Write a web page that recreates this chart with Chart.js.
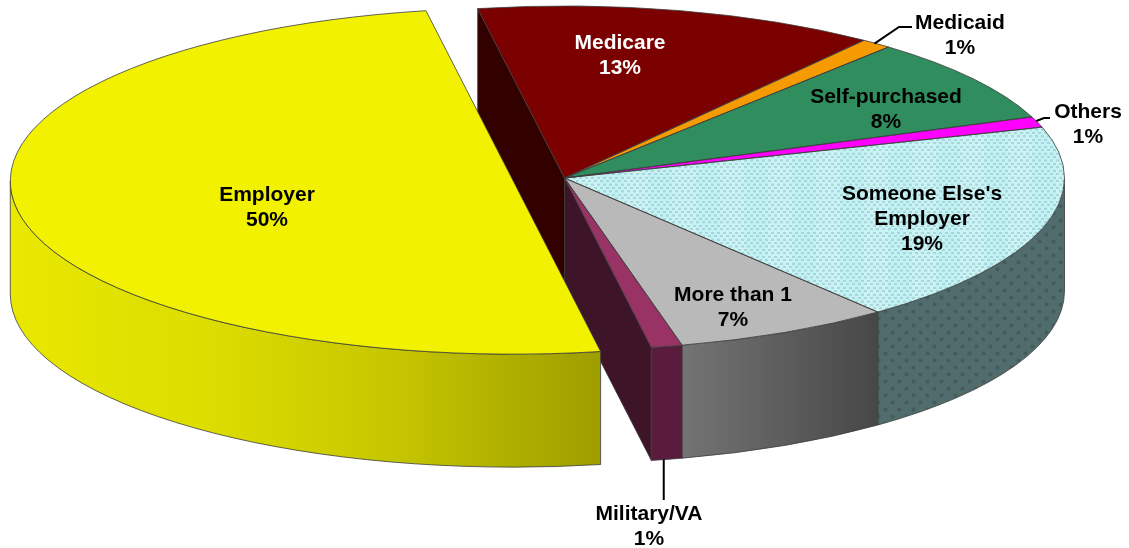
<!DOCTYPE html>
<html>
<head>
<meta charset="utf-8">
<style>html,body{margin:0;padding:0;background:#fff}canvas{display:block}</style>
<script src="https://cdn.jsdelivr.net/npm/chart.js@4/dist/chart.umd.min.js"></script>
</head>
<body>
<canvas id="c" width="1129" height="548"></canvas>
<script>
const categories = ['Medicare','Medicaid','Self-purchased','Others',"Someone Else's Employer",'More than 1','Military/VA','Employer'];
const values = [13,1,8,1,19,7,1,50];
const labelLines = [['Medicare'],['Medicaid'],['Self-purchased'],['Others'],["Someone Else's",'Employer'],['More than 1'],['Military/VA'],['Employer']];

const topColors = ['#7b0000','#f59a00','#2f8d5e','#ff00ff','#c2f1f3','#b9b9b9','#993366','#f2f200'];
const wallColors = ['#330000','#7a4d00','#174630','#800080','#4f6b6b','#606060','#5a1c3c','#c8c800'];
const textColors = ['#fff','#000','#000','#000','#000','#000','#000','#000'];

const FONT = 'bold 21px "Liberation Sans", Arial, sans-serif';
const RADIUS = 500, TILT = 0.344, DEPTH = 113, CENTER_Y = 178;
const EXPLODE = 52, EXPLODE_GROW = 3;
const LINE_H = 25;
// label anchor: centre x and first line middle y per slice
const labelAnchor = [[620,42],[960,22],[886,96],[1088,111],[922,193],[733,294],[649,513],[267,194]];
// leader route per slice: start comes from the slice itself, shifted by leaderShift
const leaders = {1:[[899,27],[912,27]],3:[[1044,118],[1050,118]],6:[[null,500]]};
const leaderShift = {1:[-2,0],3:[-1,-1],6:[-3,0]};

const canvas = document.getElementById('c');
const ctx0 = canvas.getContext('2d');

function makeTile(w,h,paint){const t=document.createElement('canvas');t.width=w;t.height=h;paint(t.getContext('2d'));return t;}
const topTile = makeTile(48,40,g=>{
  g.fillStyle='#c3f2f4';g.fillRect(0,0,48,40);
  g.fillStyle='rgba(255,255,255,.10)';g.fillRect(0,0,24,40);
  g.fillStyle='rgba(130,175,180,.42)';
  for(let y=0;y<2;y++)for(let x=0;x<8;x++){
    g.fillRect(x*6,y*20,3,6);
    g.fillRect(x*6+3,y*20+10,3,6);
  }
});
const wallTile = makeTile(14,14,g=>{
  g.fillStyle='#506c6c';g.fillRect(0,0,14,14);
  g.fillStyle='#435b5b';
  [[3.5,3.5],[10.5,10.5]].forEach(([x,y])=>{g.beginPath();g.arc(x,y,2,0,7);g.fill();});
});
topColors[4] = ctx0.createPattern(topTile,'repeat');
const wallPattern = ctx0.createPattern(wallTile,'repeat');

function hgrad(ctx,x0,x1,stops){const g=ctx.createLinearGradient(x0,0,x1,0);stops.forEach(([p,c])=>g.addColorStop(p,c));return g;}

const pie3d = {
  id:'pie3d',
  afterDatasetsUpdate(chart){
    const arcs = chart.getDatasetMeta(0).data, a = arcs[arcs.length-1];
    const mid = (a.startAngle+a.endAngle)/2;
    a.x += Math.cos(mid)*EXPLODE;
    a.y += Math.sin(mid)*EXPLODE;
    a.outerRadius += EXPLODE_GROW;
  },
  beforeDatasetsDraw(chart){
    const ctx = chart.ctx, arcs = chart.getDatasetMeta(0).data;
    const base = arcs[0], n = arcs.length;
    this.baseY = base.y;
    const sy = y => CENTER_Y + (y-this.baseY)*TILT;
    ctx.save();
    // cut faces beside the gap
    const face = (ang,col)=>{
      const ex = base.x+Math.cos(ang)*base.outerRadius, ey = sy(base.y)+Math.sin(ang)*base.outerRadius*TILT, cy = sy(base.y);
      ctx.beginPath();ctx.moveTo(base.x,cy);ctx.lineTo(ex,ey);ctx.lineTo(ex,ey+DEPTH);ctx.lineTo(base.x,cy+DEPTH);ctx.closePath();
      ctx.fillStyle=col;ctx.fill();
      ctx.strokeStyle='rgba(60,60,60,.8)';ctx.lineWidth=1;ctx.stroke();
    };
    face(arcs[0].startAngle, '#330000');
    face(arcs[n-2].endAngle, '#3e1429');
    // outer walls
    arcs.forEach((a,i)=>{
      const s = Math.max(a.startAngle,0), e = Math.min(a.endAngle,Math.PI);
      if(e<=s) return;
      const cx=a.x, cy=sy(a.y), rx=a.outerRadius, ry=rx*TILT;
      ctx.beginPath();
      ctx.ellipse(cx,cy,rx,ry,0,s,e,false);
      ctx.ellipse(cx,cy+DEPTH,rx,ry,0,e,s,true);
      ctx.closePath();
      const x0=cx+rx*Math.cos(e), x1=cx+rx*Math.cos(s);
      let fill = wallColors[i];
      if(i===n-1) fill = hgrad(ctx,x0,x1,[[0,'#e8e800'],[.35,'#dcdc00'],[.65,'#c6c600'],[1,'#9d9d00']]);
      if(i===n-3) fill = hgrad(ctx,x0,x1,[[0,'#747474'],[1,'#474747']]);
      if(i===n-4) fill = wallPattern;
      ctx.fillStyle=fill;ctx.fill();
      ctx.strokeStyle='rgba(60,60,60,.8)';ctx.lineWidth=1;ctx.stroke();
    });
    ctx.restore();
    // flatten the library's arcs to the tilted plane
    ctx.save();
    ctx.translate(0,CENTER_Y);ctx.scale(1,TILT);ctx.translate(0,-this.baseY);
  },
  afterDatasetsDraw(chart){
    const ctx = chart.ctx, arcs = chart.getDatasetMeta(0).data;
    ctx.restore();
    const sy = y => CENTER_Y + (y-this.baseY)*TILT;
    ctx.save();
    // thin outlines of the top faces
    arcs.forEach(a=>{
      const cx=a.x, cy=sy(a.y), rx=a.outerRadius, ry=rx*TILT;
      ctx.beginPath();ctx.moveTo(cx,cy);ctx.ellipse(cx,cy,rx,ry,0,a.startAngle,a.endAngle,false);ctx.closePath();
      ctx.strokeStyle='rgba(60,60,60,.8)';ctx.lineWidth=1;ctx.stroke();
    });
    // leaders
    ctx.strokeStyle='#000';ctx.lineWidth=2;
    Object.keys(leaders).forEach(k=>{
      const i=+k,a=arcs[i],m=(a.startAngle+a.endAngle)/2,sh=leaderShift[k];
      const px=a.x+Math.cos(m)*a.outerRadius+sh[0], py=sy(a.y)+Math.sin(m)*a.outerRadius*TILT+(Math.sin(m)>0.5?DEPTH:0)+sh[1];
      ctx.beginPath();ctx.moveTo(px,py);
      leaders[k].forEach(([x,y])=>ctx.lineTo(x===null?px:x,y));
      ctx.stroke();
    });
    // labels
    ctx.font=FONT;ctx.textAlign='center';ctx.textBaseline='middle';
    const total=values.reduce((p,c)=>p+c,0);
    categories.forEach((_,i)=>{
      const lines=labelLines[i].concat([Math.round(values[i]/total*100)+'%']);
      const [x,y]=labelAnchor[i];
      ctx.fillStyle=textColors[i];
      lines.forEach((t,j)=>ctx.fillText(t,x,y+j*LINE_H+1));
    });
    ctx.restore();
  }
};

new Chart(canvas,{
  type:'pie',
  data:{labels:categories,datasets:[{data:values,backgroundColor:topColors,borderWidth:0,clip:false}]},
  options:{
    responsive:false,animation:false,rotation:-10,radius:RADIUS,
    layout:{padding:0},
    plugins:{legend:{display:false},tooltip:{enabled:false}}
  },
  plugins:[pie3d]
});
</script>
</body>
</html>
